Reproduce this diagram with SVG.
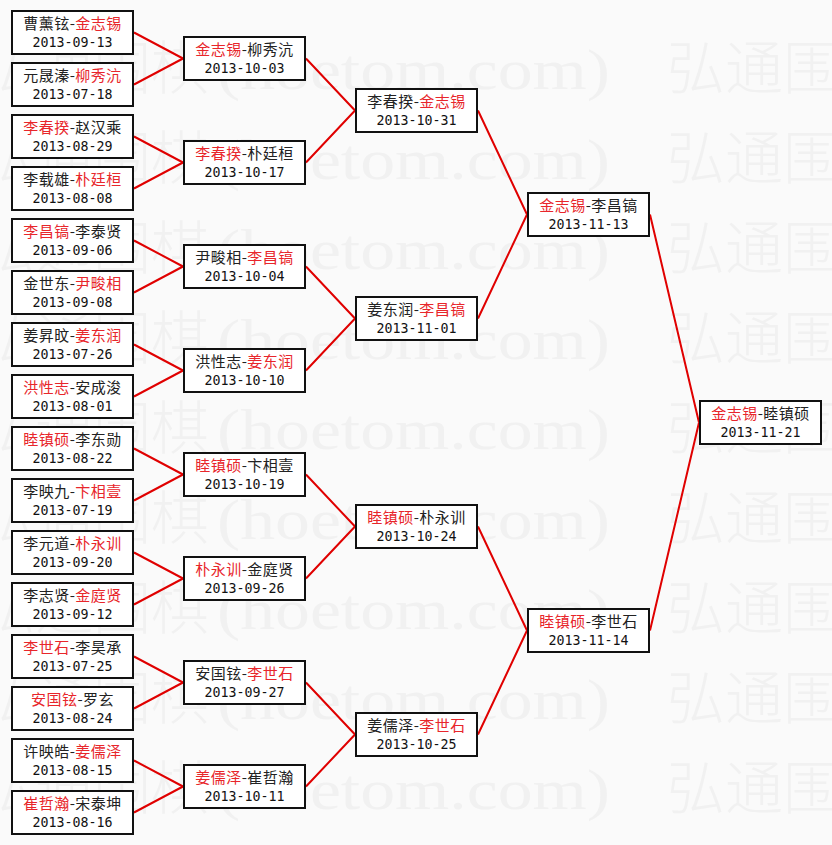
<svg xmlns="http://www.w3.org/2000/svg" width="832" height="845" viewBox="0 0 832 845">
<style>
.bg{fill:#fafafa}
.wm{fill:#f1f1f1;font-family:"Noto Sans CJK SC","Noto Sans",sans-serif;font-size:58px;font-weight:300}
.wml{fill:#f1f1f1;font-family:"Liberation Serif",serif;font-size:56px}
.box{fill:#ffffff;stroke:#111111;stroke-width:2}
.nm{font-family:"Noto Sans CJK SC","Noto Sans",sans-serif;font-size:15px;fill:#222222;text-anchor:middle;letter-spacing:0.5px}
.w{fill:#e8262b}
.dt{font-family:"DejaVu Sans Mono","Liberation Mono",monospace;font-size:13.3px;fill:#111111;text-anchor:middle}
.ln{stroke:#e00000;stroke-width:2;fill:none}
</style>
<rect class="bg" x="0" y="0" width="832" height="845"/>
<g id="watermark">
<text class="wm" x="-23" y="89">弘通围棋</text><text class="wml" x="217" y="89" textLength="393" lengthAdjust="spacingAndGlyphs">(hoetom.com)</text><text class="wm" x="667" y="89">弘通围棋</text>
<text class="wm" x="-23" y="179">弘通围棋</text><text class="wml" x="217" y="179" textLength="393" lengthAdjust="spacingAndGlyphs">(hoetom.com)</text><text class="wm" x="667" y="179">弘通围棋</text>
<text class="wm" x="-23" y="269">弘通围棋</text><text class="wml" x="217" y="269" textLength="393" lengthAdjust="spacingAndGlyphs">(hoetom.com)</text><text class="wm" x="667" y="269">弘通围棋</text>
<text class="wm" x="-23" y="359">弘通围棋</text><text class="wml" x="217" y="359" textLength="393" lengthAdjust="spacingAndGlyphs">(hoetom.com)</text><text class="wm" x="667" y="359">弘通围棋</text>
<text class="wm" x="-23" y="449">弘通围棋</text><text class="wml" x="217" y="449" textLength="393" lengthAdjust="spacingAndGlyphs">(hoetom.com)</text><text class="wm" x="667" y="449">弘通围棋</text>
<text class="wm" x="-23" y="539">弘通围棋</text><text class="wml" x="217" y="539" textLength="393" lengthAdjust="spacingAndGlyphs">(hoetom.com)</text><text class="wm" x="667" y="539">弘通围棋</text>
<text class="wm" x="-23" y="629">弘通围棋</text><text class="wml" x="217" y="629" textLength="393" lengthAdjust="spacingAndGlyphs">(hoetom.com)</text><text class="wm" x="667" y="629">弘通围棋</text>
<text class="wm" x="-23" y="719">弘通围棋</text><text class="wml" x="217" y="719" textLength="393" lengthAdjust="spacingAndGlyphs">(hoetom.com)</text><text class="wm" x="667" y="719">弘通围棋</text>
<text class="wm" x="-23" y="809">弘通围棋</text><text class="wml" x="217" y="809" textLength="393" lengthAdjust="spacingAndGlyphs">(hoetom.com)</text><text class="wm" x="667" y="809">弘通围棋</text>
</g>
<g id="connectors">
<path class="ln" d="M134,32.5L183,58.5M134,84.5L183,58.5M134,136.5L183,162.5M134,188.5L183,162.5M134,240.5L183,266.5M134,292.5L183,266.5M134,344.5L183,370.5M134,396.5L183,370.5M134,448.5L183,474.5M134,500.5L183,474.5M134,552.5L183,578.5M134,604.5L183,578.5M134,656.5L183,682.5M134,708.5L183,682.5M134,760.5L183,786.5M134,812.5L183,786.5"/>
<path class="ln" d="M306,58.5L355,110.5M306,162.5L355,110.5M306,266.5L355,318.5M306,370.5L355,318.5M306,474.5L355,526.5M306,578.5L355,526.5M306,682.5L355,734.5M306,786.5L355,734.5"/>
<path class="ln" d="M478,110.5L527,214.5M478,318.5L527,214.5M478,526.5L527,630.5M478,734.5L527,630.5"/>
<path class="ln" d="M650,214.5L699,422.5M650,630.5L699,422.5"/>
</g>
<g id="r1-0"><rect class="box" x="12" y="11" width="121" height="43"/><text class="nm" x="72.5" y="29">曹薰铉-<tspan class="w">金志锡</tspan></text><text class="dt" x="72.5" y="47">2013-09-13</text></g>
<g id="r1-1"><rect class="box" x="12" y="63" width="121" height="43"/><text class="nm" x="72.5" y="81">元晟溱-<tspan class="w">柳秀沆</tspan></text><text class="dt" x="72.5" y="99">2013-07-18</text></g>
<g id="r1-2"><rect class="box" x="12" y="115" width="121" height="43"/><text class="nm" x="72.5" y="133"><tspan class="w">李春揆</tspan>-赵汉乘</text><text class="dt" x="72.5" y="151">2013-08-29</text></g>
<g id="r1-3"><rect class="box" x="12" y="167" width="121" height="43"/><text class="nm" x="72.5" y="185">李载雄-<tspan class="w">朴廷桓</tspan></text><text class="dt" x="72.5" y="203">2013-08-08</text></g>
<g id="r1-4"><rect class="box" x="12" y="219" width="121" height="43"/><text class="nm" x="72.5" y="237"><tspan class="w">李昌镐</tspan>-李泰贤</text><text class="dt" x="72.5" y="255">2013-09-06</text></g>
<g id="r1-5"><rect class="box" x="12" y="271" width="121" height="43"/><text class="nm" x="72.5" y="289">金世东-<tspan class="w">尹畯相</tspan></text><text class="dt" x="72.5" y="307">2013-09-08</text></g>
<g id="r1-6"><rect class="box" x="12" y="323" width="121" height="43"/><text class="nm" x="72.5" y="341">姜昇旼-<tspan class="w">姜东润</tspan></text><text class="dt" x="72.5" y="359">2013-07-26</text></g>
<g id="r1-7"><rect class="box" x="12" y="375" width="121" height="43"/><text class="nm" x="72.5" y="393"><tspan class="w">洪性志</tspan>-安成浚</text><text class="dt" x="72.5" y="411">2013-08-01</text></g>
<g id="r1-8"><rect class="box" x="12" y="427" width="121" height="43"/><text class="nm" x="72.5" y="445"><tspan class="w">睦镇硕</tspan>-李东勋</text><text class="dt" x="72.5" y="463">2013-08-22</text></g>
<g id="r1-9"><rect class="box" x="12" y="479" width="121" height="43"/><text class="nm" x="72.5" y="497">李映九-<tspan class="w">卞相壹</tspan></text><text class="dt" x="72.5" y="515">2013-07-19</text></g>
<g id="r1-10"><rect class="box" x="12" y="531" width="121" height="43"/><text class="nm" x="72.5" y="549">李元道-<tspan class="w">朴永训</tspan></text><text class="dt" x="72.5" y="567">2013-09-20</text></g>
<g id="r1-11"><rect class="box" x="12" y="583" width="121" height="43"/><text class="nm" x="72.5" y="601">李志贤-<tspan class="w">金庭贤</tspan></text><text class="dt" x="72.5" y="619">2013-09-12</text></g>
<g id="r1-12"><rect class="box" x="12" y="635" width="121" height="43"/><text class="nm" x="72.5" y="653"><tspan class="w">李世石</tspan>-李昊承</text><text class="dt" x="72.5" y="671">2013-07-25</text></g>
<g id="r1-13"><rect class="box" x="12" y="687" width="121" height="43"/><text class="nm" x="72.5" y="705"><tspan class="w">安国铉</tspan>-罗玄</text><text class="dt" x="72.5" y="723">2013-08-24</text></g>
<g id="r1-14"><rect class="box" x="12" y="739" width="121" height="43"/><text class="nm" x="72.5" y="757">许映皓-<tspan class="w">姜儒泽</tspan></text><text class="dt" x="72.5" y="775">2013-08-15</text></g>
<g id="r1-15"><rect class="box" x="12" y="791" width="121" height="43"/><text class="nm" x="72.5" y="809"><tspan class="w">崔哲瀚</tspan>-宋泰坤</text><text class="dt" x="72.5" y="827">2013-08-16</text></g>
<g id="r2-0"><rect class="box" x="184" y="37" width="121" height="43"/><text class="nm" x="244.5" y="55"><tspan class="w">金志锡</tspan>-柳秀沆</text><text class="dt" x="244.5" y="73">2013-10-03</text></g>
<g id="r2-1"><rect class="box" x="184" y="141" width="121" height="43"/><text class="nm" x="244.5" y="159"><tspan class="w">李春揆</tspan>-朴廷桓</text><text class="dt" x="244.5" y="177">2013-10-17</text></g>
<g id="r2-2"><rect class="box" x="184" y="245" width="121" height="43"/><text class="nm" x="244.5" y="263">尹畯相-<tspan class="w">李昌镐</tspan></text><text class="dt" x="244.5" y="281">2013-10-04</text></g>
<g id="r2-3"><rect class="box" x="184" y="349" width="121" height="43"/><text class="nm" x="244.5" y="367">洪性志-<tspan class="w">姜东润</tspan></text><text class="dt" x="244.5" y="385">2013-10-10</text></g>
<g id="r2-4"><rect class="box" x="184" y="453" width="121" height="43"/><text class="nm" x="244.5" y="471"><tspan class="w">睦镇硕</tspan>-卞相壹</text><text class="dt" x="244.5" y="489">2013-10-19</text></g>
<g id="r2-5"><rect class="box" x="184" y="557" width="121" height="43"/><text class="nm" x="244.5" y="575"><tspan class="w">朴永训</tspan>-金庭贤</text><text class="dt" x="244.5" y="593">2013-09-26</text></g>
<g id="r2-6"><rect class="box" x="184" y="661" width="121" height="43"/><text class="nm" x="244.5" y="679">安国铉-<tspan class="w">李世石</tspan></text><text class="dt" x="244.5" y="697">2013-09-27</text></g>
<g id="r2-7"><rect class="box" x="184" y="765" width="121" height="43"/><text class="nm" x="244.5" y="783"><tspan class="w">姜儒泽</tspan>-崔哲瀚</text><text class="dt" x="244.5" y="801">2013-10-11</text></g>
<g id="r3-0"><rect class="box" x="356" y="89" width="121" height="43"/><text class="nm" x="416.5" y="107">李春揆-<tspan class="w">金志锡</tspan></text><text class="dt" x="416.5" y="125">2013-10-31</text></g>
<g id="r3-1"><rect class="box" x="356" y="297" width="121" height="43"/><text class="nm" x="416.5" y="315">姜东润-<tspan class="w">李昌镐</tspan></text><text class="dt" x="416.5" y="333">2013-11-01</text></g>
<g id="r3-2"><rect class="box" x="356" y="505" width="121" height="43"/><text class="nm" x="416.5" y="523"><tspan class="w">睦镇硕</tspan>-朴永训</text><text class="dt" x="416.5" y="541">2013-10-24</text></g>
<g id="r3-3"><rect class="box" x="356" y="713" width="121" height="43"/><text class="nm" x="416.5" y="731">姜儒泽-<tspan class="w">李世石</tspan></text><text class="dt" x="416.5" y="749">2013-10-25</text></g>
<g id="r4-0"><rect class="box" x="528" y="193" width="121" height="43"/><text class="nm" x="588.5" y="211"><tspan class="w">金志锡</tspan>-李昌镐</text><text class="dt" x="588.5" y="229">2013-11-13</text></g>
<g id="r4-1"><rect class="box" x="528" y="609" width="121" height="43"/><text class="nm" x="588.5" y="627"><tspan class="w">睦镇硕</tspan>-李世石</text><text class="dt" x="588.5" y="645">2013-11-14</text></g>
<g id="r5-0"><rect class="box" x="700" y="401" width="121" height="43"/><text class="nm" x="760.5" y="419"><tspan class="w">金志锡</tspan>-睦镇硕</text><text class="dt" x="760.5" y="437">2013-11-21</text></g>
</svg>
